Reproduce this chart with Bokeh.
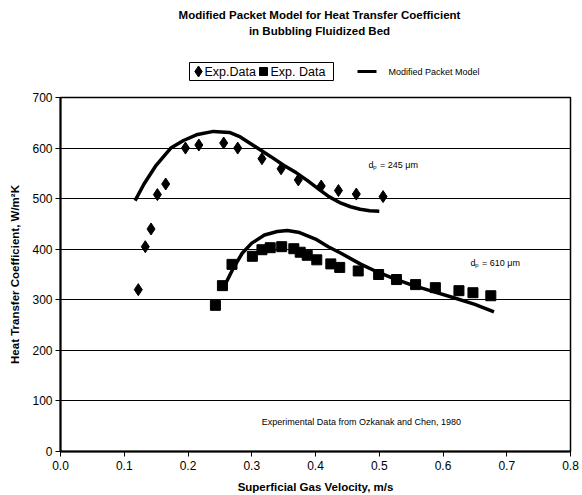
from bokeh.plotting import figure
from bokeh.layouts import column
from bokeh.models import Range1d, FixedTicker, CustomJSTickFormatter
from bokeh.core.properties import value
from bokeh.embed import file_html
from bokeh.resources import INLINE

# data
x_245 = [0.122, 0.133, 0.142, 0.152, 0.165, 0.196, 0.217, 0.256, 0.278, 0.316, 0.346, 0.373, 0.409, 0.436, 0.464, 0.506]
h_245 = [320, 405, 440, 508, 529, 600, 606, 610, 600, 579, 559, 537, 525, 516, 509, 504]

x_610 = [0.243, 0.254, 0.269, 0.301, 0.316, 0.329, 0.347, 0.366, 0.376, 0.387, 0.402, 0.424, 0.438,
         0.467, 0.499, 0.527, 0.557, 0.588, 0.625, 0.647, 0.675]
h_610 = [289, 328, 370, 386, 399, 403, 405, 401, 394, 388, 379, 371, 364,
         357, 350, 340, 330, 324, 318, 314, 308]

xm_245 = [0.117, 0.131, 0.150, 0.173, 0.193, 0.215, 0.240, 0.265, 0.282, 0.309, 0.330, 0.350, 0.370,
          0.387, 0.405, 0.421, 0.440, 0.455, 0.470, 0.485, 0.500]
hm_245 = [496, 529, 566, 600, 615, 627, 633, 631, 622, 600, 583, 566, 551,
          536, 519, 504, 491, 484, 479, 476, 475]

xm_610 = [0.255, 0.270, 0.285, 0.300, 0.320, 0.340, 0.356, 0.375, 0.400, 0.420, 0.440, 0.470, 0.497,
          0.525, 0.554, 0.585, 0.617, 0.650, 0.680]
hm_610 = [322, 360, 392, 412, 428, 435, 437, 433, 420, 405, 392, 371, 355,
          341, 328, 316, 304, 291, 276]

x_ticks = [0.0, 0.1, 0.2, 0.3, 0.4, 0.5, 0.6, 0.7, 0.8]
y_ticks = [0, 100, 200, 300, 400, 500, 600, 700]

title_lines = ["Modified Packet Model for Heat Transfer Coefficient", "in Bubbling Fluidized Bed"]
legend_labels = ["Exp.Data", "Exp. Data", "Modified Packet Model"]

FONT = "Liberation Sans"
HEAD_H = 88
FRAME_L, FRAME_R = 60, 570  # header frame is aligned with the main plot frame by the column layout

# ---------- header (title + legend), page pixel coordinates with y downward ----------
h = figure(width=582, height=HEAD_H, output_backend="svg", toolbar_location=None, title=None,
           x_range=Range1d(FRAME_L, FRAME_R), y_range=Range1d(HEAD_H, 0),
           min_border=0, min_border_left=FRAME_L, min_border_right=582 - FRAME_R,
           min_border_top=0, min_border_bottom=0)
h.axis.visible = False
h.grid.visible = False
h.outline_line_color = None
h.background_fill_color = "white"
h.border_fill_color = "white"

h.text(x=[319, 319], y=[14, 30], text=title_lines, text_font=value(FONT), text_font_style="bold",
       text_font_size="11.5px", text_align="center", text_baseline="middle", text_color="black")

# boxed legend for the data series
h.quad(left=[189], right=[333], top=[62], bottom=[80], fill_color="white", line_color="black", line_width=1)
h.scatter(x=[198], y=[71], marker="diamond", size=11, fill_color="black", line_color="black")
h.text(x=[204], y=[71.5], text=[legend_labels[0]], text_font=value(FONT), text_font_size="12.5px",
       text_baseline="middle", text_color="black")
h.scatter(x=[263], y=[71], marker="square", size=8, fill_color="black", line_color="black")
h.text(x=[270], y=[71.5], text=[legend_labels[1]], text_font=value(FONT), text_font_size="12.5px",
       text_baseline="middle", text_color="black")
# model legend
h.segment(x0=[357], y0=[71], x1=[376], y1=[71], line_color="black", line_width=3)
h.text(x=[388], y=[71], text=[legend_labels[2]], text_font=value(FONT), text_font_size="9px",
       text_baseline="middle", text_color="black")

# ---------- main plot ----------
p = figure(width=582, height=495 - HEAD_H, output_backend="svg", toolbar_location=None,
           title=None, x_range=Range1d(0, 0.8), y_range=Range1d(0, 700),
           min_border_left=FRAME_L, min_border_right=582 - FRAME_R, min_border_top=97 - HEAD_H,
           min_border_bottom=44)
p.background_fill_color = "white"
p.border_fill_color = "white"
p.outline_line_color = "black"
p.outline_line_width = 1.5

p.xgrid.visible = False
p.ygrid.grid_line_color = "black"
p.ygrid.grid_line_width = 1
p.ygrid.ticker = FixedTicker(ticks=[100, 200, 300, 400, 500, 600])

p.xaxis.ticker = FixedTicker(ticks=x_ticks)
p.yaxis.ticker = FixedTicker(ticks=y_ticks)
p.xaxis.formatter = CustomJSTickFormatter(code="return tick.toFixed(1);")

for ax in (p.xaxis[0], p.yaxis[0]):
    ax.axis_line_color = "black"
    ax.axis_line_width = 2
    ax.major_tick_line_color = "black"
    ax.major_tick_in = 0
    ax.major_tick_out = 5
    ax.minor_tick_line_color = None
    ax.major_label_text_font = FONT
    ax.major_label_text_font_size = "12px"
    ax.major_label_text_color = "black"
    ax.axis_label_text_font = FONT
    ax.axis_label_text_font_style = "bold"
    ax.axis_label_text_font_size = "11.5px"
    ax.axis_label_text_color = "black"

p.xaxis.axis_label = "Superficial Gas Velocity, m/s"
p.yaxis.axis_label = "Heat Transfer Coefficient, W/m\u00b2K"
p.xaxis.major_label_standoff = 4
p.xaxis.axis_label_standoff = 8
p.yaxis.major_label_standoff = 3
p.yaxis.axis_label_standoff = 8

# model curves
p.line(xm_245, hm_245, line_color="black", line_width=3.5, line_join="round")
p.line(xm_610, hm_610, line_color="black", line_width=3.5, line_join="round")

# data
p.scatter(x_245, h_245, marker="diamond", size=12, fill_color="black", line_color="black")
p.scatter(x_610, h_610, marker="square", size=10, fill_color="black", line_color="black")

# in-plot texts
p.text(x=[0.483, 0.643], y=[566, 372], text=["d\u209a = 245 \u03bcm", "d\u209a = 610 \u03bcm"],
       text_font=value(FONT), text_font_size="9px", text_baseline="middle", text_color="black")
p.text(x=[0.472], y=[59], text=["Experimental Data from Ozkanak and Chen, 1980"], text_font=value(FONT),
       text_font_size="9px", text_align="center", text_baseline="middle", text_color="black")

layout = column(h, p, spacing=0)
open("out.html", "w").write(file_html(layout, INLINE))
